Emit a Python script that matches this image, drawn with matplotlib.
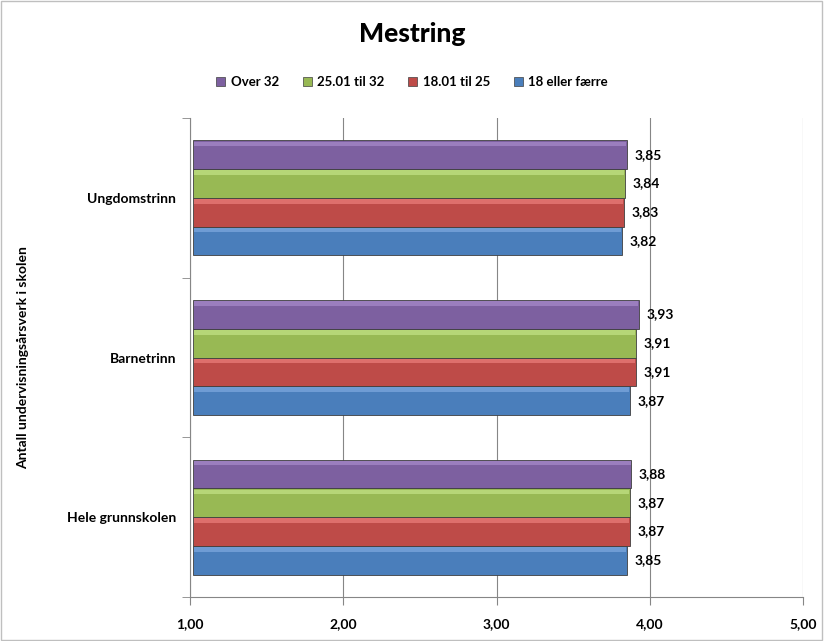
import numpy as np
import matplotlib
matplotlib.use("Agg")
from matplotlib import pyplot as plt
from matplotlib.patches import Rectangle

plt.rcParams['font.family'] = ['Lato', 'DejaVu Sans']

categories = ['Hele grunnskolen', 'Barnetrinn', 'Ungdomstrinn']
series_names = ['18 eller færre', '18.01 til 25', '25.01 til 32', 'Over 32']
values = {
    '18 eller færre': [3.85, 3.87, 3.82],
    '18.01 til 25': [3.87, 3.91, 3.83],
    '25.01 til 32': [3.87, 3.91, 3.84],
    'Over 32': [3.88, 3.93, 3.85],
}
colors = ['#4A7EBB', '#BE4B48', '#98B954', '#7D60A0']
highlights = ['#7FAAE0', '#EC7F7C', '#C4E387', '#A98BCB']
xticks = [1, 2, 3, 4, 5]
xtick_labels = ['1,00', '2,00', '3,00', '4,00', '5,00']

fig = plt.figure(figsize=(8.24, 6.41), dpi=100)
fig.patches.append(Rectangle((0.001, 0.001), 0.997, 0.997, transform=fig.transFigure,
                             fill=False, edgecolor='#BFBFBF', linewidth=1))
ax = fig.add_axes([0.2306, 0.0686, 0.7439, 0.7473])

y = np.arange(len(categories))
h = 0.18
offsets = [-1.5 * h, -0.5 * h, 0.5 * h, 1.5 * h]

for i, name in enumerate(series_names):
    vals = np.array(values[name])
    pos = y + offsets[i]
    ax.barh(pos, vals - 1.02, left=1.02, height=h, color=colors[i], edgecolor='#3F3F3F',
            linewidth=0.6, zorder=3)
    # light strip on top of each bar for the bevel look
    ax.barh(pos + h * 0.38, vals - 1.03, left=1.025, height=h * 0.16,
            color=highlights[i], linewidth=0, zorder=4, alpha=0.7)
    for p, v in zip(pos, vals):
        ax.text(v + 0.05, p, f'{v:.2f}'.replace('.', ','), va='center', ha='left',
                fontsize=10, fontweight='bold', zorder=5)

ax.set_xlim(1, 5)
ax.set_ylim(-0.5, 2.5)
ax.set_xticks(xticks)
ax.set_xticklabels(xtick_labels, fontsize=10, fontweight='bold')
ax.set_yticks(y)
ax.set_yticklabels(categories, fontsize=10, fontweight='bold')
ax.set_yticks([-0.5, 0.5, 1.5, 2.5], minor=True)
ax.tick_params(axis='y', which='major', length=0, pad=10)
ax.tick_params(axis='y', which='minor', length=6, color='#868686')
ax.tick_params(axis='x', length=6, color='#868686', pad=9)
ax.grid(axis='x', color='#868686', linewidth=0.8, zorder=0)
for s in ['top', 'right']:
    ax.spines[s].set_visible(False)
for s in ['left', 'bottom']:
    ax.spines[s].set_color('#868686')

ax.set_ylabel('Antall undervisningsårsverk i skolen', fontsize=10, fontweight='bold')
ax.yaxis.set_label_coords(-0.262, 0.5)

fig.suptitle('Mestring', fontsize=19, fontweight='black', y=0.965)

handles = [Rectangle((0, 0), 1, 1, facecolor=colors[i], edgecolor='#3F3F3F', linewidth=0.5)
           for i in range(3, -1, -1)]
fig.legend(handles, series_names[::-1], loc='center', bbox_to_anchor=(0.5, 0.872),
           ncol=4, frameon=False, prop={'weight': 'bold', 'size': 9.5},
           handlelength=0.7, handleheight=0.7, handletextpad=0.4, columnspacing=1.8)

fig.savefig('out.png', dpi=100)
